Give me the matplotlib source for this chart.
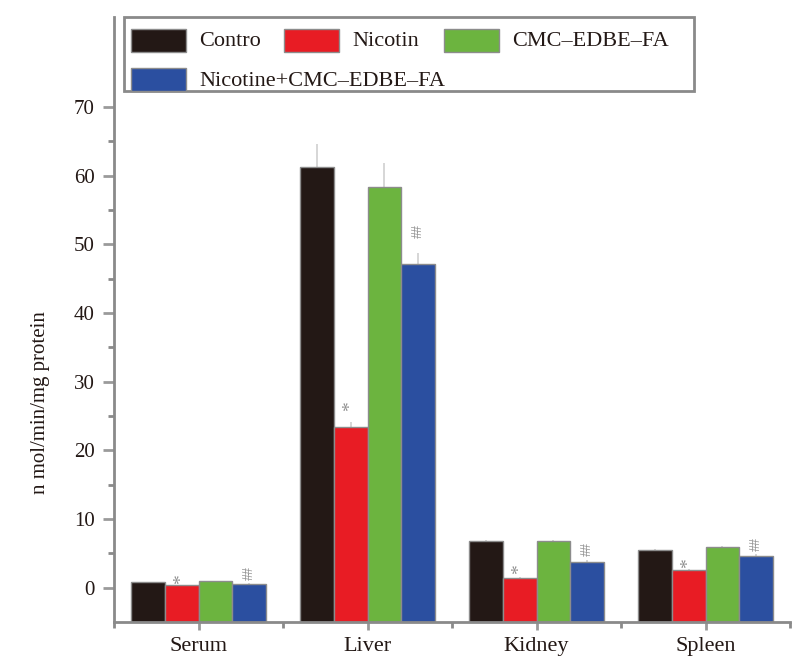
import matplotlib
matplotlib.use("Agg")
import matplotlib.pyplot as plt
from matplotlib.patches import Rectangle
import numpy as np

plt.rcParams['font.family'] = ['Liberation Serif', 'DejaVu Serif']

categories = ["Serum", "Liver", "Kidney", "Spleen"]
series = ["Contro", "Nicotin", "CMC\u2013EDBE\u2013FA", "Nicotine+CMC\u2013EDBE\u2013FA"]
contro = [0.77, 61.3, 6.75, 5.5]
nicotin = [0.33, 23.4, 1.4, 2.5]
cmc = [0.92, 58.4, 6.75, 5.9]
combo = [0.54, 47.2, 3.8, 4.55]
err_contro = [0.1, 3.3, 0.2, 0.2]
err_nicotin = [0.1, 0.7, 0.2, 0.2]
err_cmc = [0.1, 3.5, 0.2, 0.2]
err_combo = [0.1, 1.6, 0.2, 0.3]
star_y = [1.2, 26.5, 2.7, 3.6]      # '*' marks above Nicotin bars
hash_y = [2.2, 51.9, 5.6, 6.3]      # '##' marks above combo bars

colors = ["#231815", "#E81C24", "#6CB43F", "#2B4FA0"]
values = [contro, nicotin, cmc, combo]
errors = [err_contro, err_nicotin, err_cmc, err_combo]

W, H = 799, 668
fig = plt.figure(figsize=(W / 100, H / 100), dpi=100)
ax = fig.add_axes([114 / W, (H - 622) / H, 676 / W, 605 / H])

ymin, ymax = -5, 83.1
x = np.arange(len(categories))
bw = 0.2
for i, (vals, errs, c) in enumerate(zip(values, errors, colors)):
    pos = x + (i - 1.5) * bw
    vals = np.array(vals)
    ax.bar(pos, vals - ymin, bottom=ymin, width=bw, color=c,
           edgecolor="#8c8c8c", linewidth=1.0, zorder=2)
    ax.errorbar(pos, vals, yerr=[np.zeros_like(vals), errs], fmt='none',
                ecolor="#cfcfcf", elinewidth=1.2, capsize=0, zorder=1)

for j in range(len(categories)):
    ax.text(x[j] - 0.5 * bw, star_y[j], "*", ha='center', va='center',
            fontsize=14, color="#8f8f8f", rotation=90)
    ax.text(x[j] + 1.5 * bw, hash_y[j], "##", ha='center', va='center',
            fontsize=10, color="#8f8f8f", rotation=90)

ax.set_xlim(-0.5, 3.5)
ax.set_ylim(ymin, ymax)
ax.set_yticks(np.arange(0, 71, 10))
ax.set_yticks(np.arange(5, 71, 10), minor=True)
ax.set_xticks(x)
ax.set_xticklabels(categories, fontsize=16, color="#231815")
ax.set_xticks([-0.5, 0.5, 1.5, 2.5, 3.5], minor=True)
ax.tick_params(axis='y', which='major', length=8, width=2, color="#9a9a9a",
               pad=6, labelsize=15, labelcolor="#231815")
ax.tick_params(axis='y', which='minor', length=4, width=2, color="#8a8a8a")
ax.tick_params(axis='x', which='major', length=6, width=2, color="#9a9a9a",
               pad=5)
ax.tick_params(axis='x', which='minor', length=4, width=2, color="#8a8a8a")
for s in ["top", "right"]:
    ax.spines[s].set_visible(False)
for s in ["left", "bottom"]:
    ax.spines[s].set_color("#8a8a8a")
    ax.spines[s].set_linewidth(2)

fig.text(41 / W, 1 - 403 / H, "n mol/min/mg protein", rotation=90,
         ha='center', va='center', fontsize=15, color="#231815")

# legend (manual layout to match the reference arrangement)
def fx(px):
    return px / W

def fy(py):
    return 1 - py / H

fig.add_artist(Rectangle((fx(123.5), fy(91)), (694 - 123.5) / W, (91 - 17) / H,
                         transform=fig.transFigure, facecolor="white",
                         edgecolor="#8a8a8a", linewidth=2, zorder=5))
slots = [(131, 40), (284, 40), (444, 40), (131, 79)]
for (hx, hy), lab, c in zip(slots, series, colors):
    fig.add_artist(Rectangle((fx(hx), fy(hy + 11.5)), 55 / W, 23 / H,
                             transform=fig.transFigure, facecolor=c,
                             edgecolor="#8c8c8c", linewidth=1.0, zorder=6))
    fig.text(fx(hx + 68), fy(hy + 2), lab, ha='left', va='center', fontsize=16,
             color="#231815", zorder=7)

fig.savefig("out.png", dpi=100)
